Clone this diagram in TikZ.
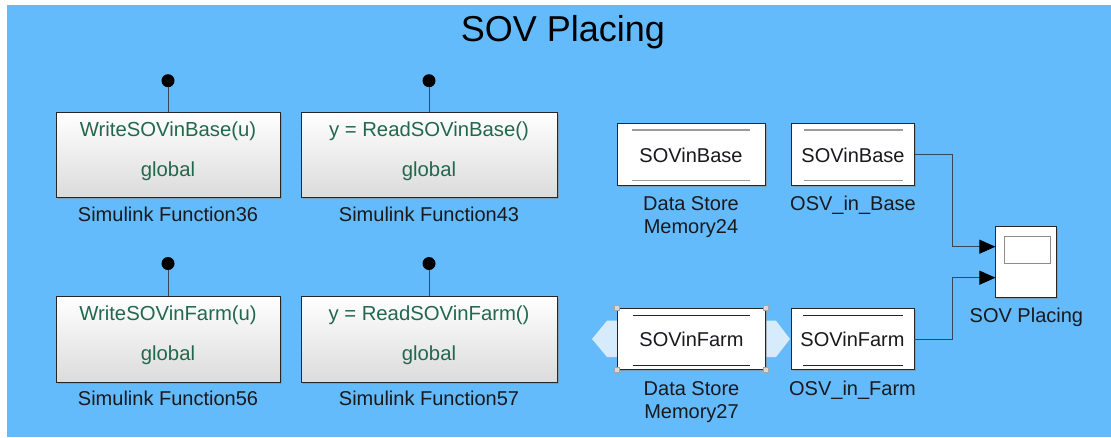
\documentclass[tikz,border=0pt]{standalone}
\usepackage{fontspec}
\setmainfont{Liberation Sans}
\usetikzlibrary{arrows.meta,shadows}
\definecolor{bg}{RGB}{99,187,251}
\definecolor{fgreen}{RGB}{34,104,78}
\definecolor{wire}{RGB}{58,70,92}
\definecolor{hl}{RGB}{214,236,253}
\definecolor{innergray}{RGB}{155,155,155}
\definecolor{txt}{RGB}{25,25,30}
\begin{document}
\begin{tikzpicture}[x=1pt,y=-1pt,
  fbox/.style={draw=black!85, line width=0.9pt, top color=white, bottom color=black!14,
    inner sep=0pt, drop shadow={shadow xshift=1.5pt, shadow yshift=-1.5pt, fill=black!45, opacity=0.6}},
  dsbox/.style={draw=black!85, line width=0.9pt, fill=white, inner sep=0pt,
    drop shadow={shadow xshift=1.5pt, shadow yshift=-1.5pt, fill=black!45, opacity=0.6}},
  ftext/.style={font=\fontsize{20.3}{24}\selectfont, text=fgreen, anchor=base, inner sep=0pt},
  btext/.style={font=\fontsize{20}{24}\selectfont, text=txt, anchor=base, inner sep=0pt},
  lbl/.style={font=\fontsize{20}{24}\selectfont, text=txt, anchor=base, inner sep=0pt},
  fdot/.style={circle, fill=black, minimum size=13pt, inner sep=0pt},
  wireln/.style={draw=wire, line width=0.9pt},
  sigarrow/.style={wireln, -{Triangle[length=16pt,width=14pt,color=black,fill=black]}},
  innerln/.style={draw=innergray, line width=1.6pt},
  innerdk/.style={draw=black!85, line width=0.9pt},
  handle/.style={draw=black!35, fill=black!15, line width=0.5pt}
]
\useasboundingbox (0,0) rectangle (1111,437);
\fill[white] (0,0) rectangle (1111,437);
\fill[bg] (7,5) rectangle (1111,437);

% title
\node[font=\fontsize{36}{40}\selectfont, text=black, anchor=base, inner sep=0pt] (title) at (563,41.7) {SOV Placing};

% ---------- Simulink function blocks ----------
\node[fbox, minimum width=224pt, minimum height=85pt] (f36) at (168,154.5) {};
\node[fbox, minimum width=256pt, minimum height=85pt] (f43) at (429,154.5) {};
\node[fbox, minimum width=224pt, minimum height=86pt] (f56) at (168,339) {};
\node[fbox, minimum width=256pt, minimum height=86pt] (f57) at (429,339) {};

\node[ftext] (f36a) at (168,136.5) {WriteSOVinBase(u)};
\node[ftext] (f36b) at (168,176.7) {global};
\node[ftext] (f43a) at (429,136.5) {y = ReadSOVinBase()};
\node[ftext] (f43b) at (429,176.7) {global};
\node[ftext] (f56a) at (168,320.5) {WriteSOVinFarm(u)};
\node[ftext] (f56b) at (168,360.7) {global};
\node[ftext] (f57a) at (429,320.5) {y = ReadSOVinFarm()};
\node[ftext] (f57b) at (429,360.7) {global};

\node[lbl] (l36) at (168,221) {Simulink Function36};
\node[lbl] (l43) at (429,221) {Simulink Function43};
\node[lbl] (l56) at (168,405.5) {Simulink Function56};
\node[lbl] (l57) at (429,405.5) {Simulink Function57};

\node[fdot] (d36) at (168,80.7) {};
\node[fdot] (d43) at (429,80.7) {};
\node[fdot] (d56) at (168,263.5) {};
\node[fdot] (d57) at (429,263.5) {};
\draw[wireln] (d36) -- (f36.north);
\draw[wireln] (d43) -- (f43.north);
\draw[wireln] (d56) -- (f56.north);
\draw[wireln] (d57) -- (f57.north);

% ---------- data store highlight arrows ----------
\fill[hl] (620,320.7) -- (607,320.7) -- (592,339) -- (607,357) -- (620,357) -- cycle;
\fill[hl] (763,320.7) -- (776,320.7) -- (790,339) -- (776,357) -- (763,357) -- cycle;

% ---------- data store / read blocks ----------
\node[dsbox, minimum width=148pt, minimum height=62pt] (ds24) at (691,154) {};
\node[dsbox, minimum width=123pt, minimum height=62pt] (osvb) at (853,154) {};
\node[dsbox, minimum width=148pt, minimum height=61pt] (ds27) at (691.5,339) {};
\node[dsbox, minimum width=123pt, minimum height=61pt] (osvf) at (852.5,339) {};

\draw[innerln] ([xshift=15.5pt,yshift=-7.5pt]ds24.north west) -- ([xshift=-15.5pt,yshift=-7.5pt]ds24.north east);
\draw[innerln] ([xshift=15.5pt,yshift=5pt]ds24.south west) -- ([xshift=-15.5pt,yshift=5pt]ds24.south east);
\draw[innerln] ([xshift=12.5pt,yshift=-7.5pt]osvb.north west) -- ([xshift=-11.5pt,yshift=-7.5pt]osvb.north east);
\draw[innerln] ([xshift=12.5pt,yshift=5pt]osvb.south west) -- ([xshift=-11.5pt,yshift=5pt]osvb.south east);
\draw[innerdk] ([xshift=15.5pt,yshift=-7.5pt]ds27.north west) -- ([xshift=-15.5pt,yshift=-7.5pt]ds27.north east);
\draw[innerdk] ([xshift=15.5pt,yshift=5pt]ds27.south west) -- ([xshift=-15.5pt,yshift=5pt]ds27.south east);
\draw[innerdk] ([xshift=12.5pt,yshift=-7.5pt]osvf.north west) -- ([xshift=-11.5pt,yshift=-7.5pt]osvf.north east);
\draw[innerdk] ([xshift=12.5pt,yshift=5pt]osvf.south west) -- ([xshift=-11.5pt,yshift=5pt]osvf.south east);

\foreach \c in {north west,north east,south west,south east}
  \draw[handle] ([xshift=-2.5pt,yshift=-2.5pt]ds27.\c) rectangle ([xshift=2.5pt,yshift=2.5pt]ds27.\c);

\node[btext] (t24) at (691,162.3) {SOVinBase};
\node[btext] (tob) at (853,162.3) {SOVinBase};
\node[btext] (t27) at (691.5,346.5) {SOVinFarm};
\node[btext] (tof) at (852.5,346.5) {SOVinFarm};

\node[lbl] (l24a) at (691,210.7) {Data Store};
\node[lbl] (l24b) at (691,233.4) {Memory24};
\node[lbl] (lob) at (853,210.7) {OSV\_in\_Base};
\node[lbl] (l27a) at (691.5,395.5) {Data Store};
\node[lbl] (l27b) at (691.5,418.2) {Memory27};
\node[lbl] (lof) at (852.5,395.5) {OSV\_in\_Farm};

% ---------- scope ----------
\node[dsbox, minimum width=61pt, minimum height=71pt] (scope) at (1026.4,261.5) {};
\draw[draw=black!45, fill=white, line width=0.8pt] ([xshift=8.5pt,yshift=-11pt]scope.north west) rectangle ([xshift=-7pt,yshift=-38pt]scope.north east);
\node[lbl] (lsc) at (1026.4,322.7) {SOV Placing};
\coordinate (in1) at ([yshift=14.8pt]scope.west);
\coordinate (in2) at ([yshift=-16.2pt]scope.west);

\draw[sigarrow] (osvb.east) -- ++(37.4,0) |- (in1);
\draw[sigarrow] (osvf.east) -- ++(38.2,0) |- (in2);
\end{tikzpicture}
\end{document}
